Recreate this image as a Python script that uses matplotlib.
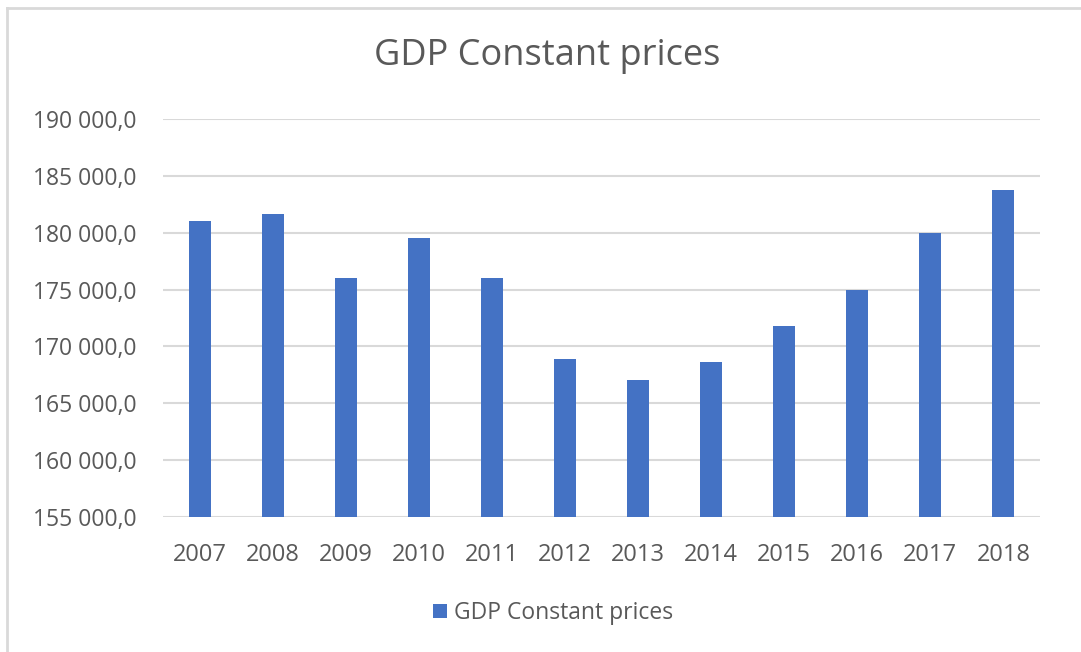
import matplotlib.pyplot as plt
from matplotlib.lines import Line2D
from matplotlib.patches import Patch

years = ['2007', '2008', '2009', '2010', '2011', '2012',
         '2013', '2014', '2015', '2016', '2017', '2018']
gdp = [181070, 181630, 176050, 179520, 176050, 168890,
       167040, 168630, 171800, 175010, 180020, 183750]
y_ticks = [155000, 160000, 165000, 170000, 175000, 180000, 185000, 190000]

bar_color = '#4472c4'
text_color = '#595959'
grid_color = '#d9d9d9'

plt.rcParams['font.family'] = ['Open Sans', 'DejaVu Sans']

W, H = 1081, 652
fig = plt.figure(figsize=(W / 100, H / 100), dpi=100)
ax = fig.add_axes([163 / W, 1 - 516.7 / H, (1040 - 163) / W, (516.7 - 119.3) / H])

x = range(len(years))
ax.bar(x, gdp, width=0.3, color=bar_color, zorder=3, label='GDP Constant prices')

ax.set_xlim(-0.5, len(years) - 0.5)
ax.set_ylim(155000, 190000)
ax.set_yticks(y_ticks)
ax.set_yticklabels(['{:,}'.format(v).replace(',', ' ') + ',0' for v in y_ticks])
ax.set_xticks(list(x))
ax.set_xticklabels(years)
ax.tick_params(axis='both', length=0, labelcolor=text_color)
ax.tick_params(axis='y', pad=19, labelsize=16.5)
ax.tick_params(axis='x', pad=19, labelsize=17)
ax.grid(axis='y', color=grid_color, linewidth=1.5, zorder=0)
for s in ax.spines.values():
    s.set_visible(False)

fig.text(547 / W, 1 - 56 / H, 'GDP Constant prices', ha='center', va='center',
         fontsize=26, color=text_color)

handles = [Patch(facecolor=bar_color, edgecolor='none')]
fig.legend(handles, ['GDP Constant prices'], loc='center', bbox_to_anchor=(553 / W, 1 - 613 / H),
           frameon=False, fontsize=16.5, handlelength=0.6, handleheight=0.6,
           handletextpad=0.3, labelcolor=text_color)

# chart frame (cropped at right and bottom)
fig.add_artist(Line2D([7.5 / W, 1], [1 - 8 / H, 1 - 8 / H], color=grid_color, linewidth=2))
fig.add_artist(Line2D([7.5 / W, 7.5 / W], [0, 1 - 8 / H], color=grid_color, linewidth=2))

fig.savefig('out.png', dpi=100, facecolor='white')
